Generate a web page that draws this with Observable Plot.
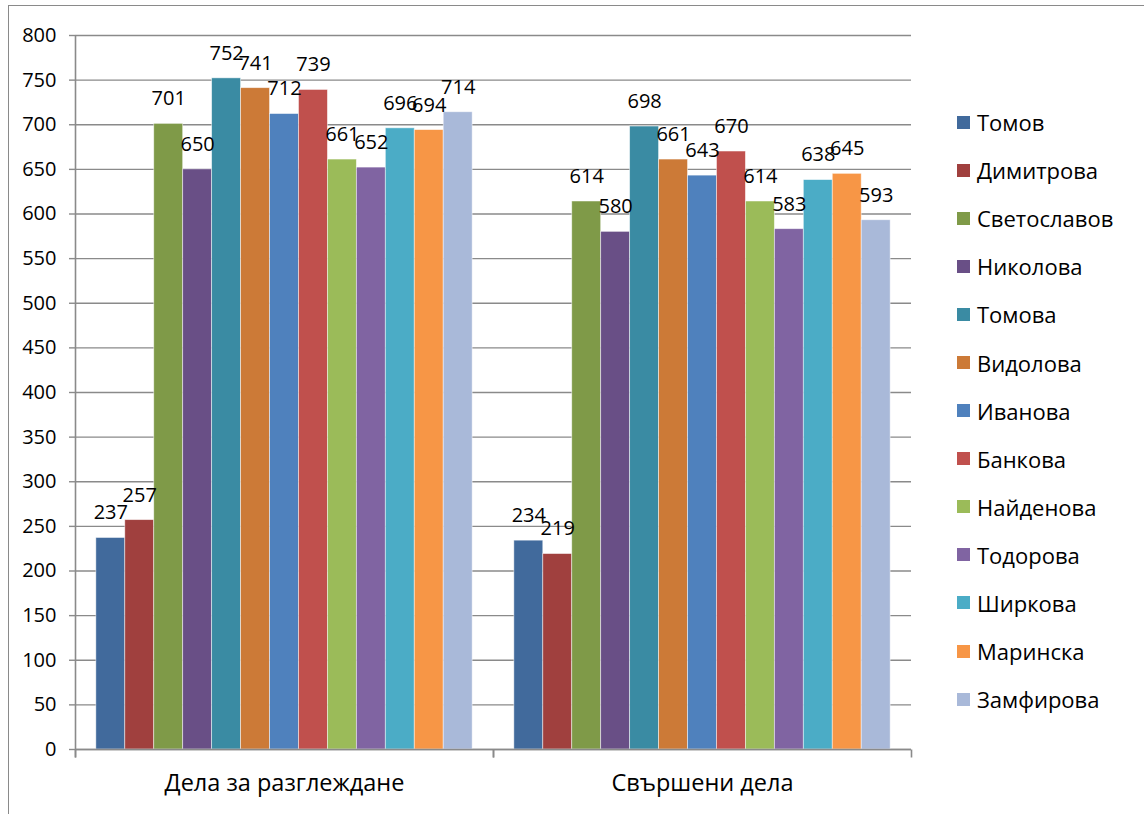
<!DOCTYPE html>
<html>
<head>
<meta charset="utf-8">
<script src="https://cdn.jsdelivr.net/npm/d3@7"></script>
<script src="https://cdn.jsdelivr.net/npm/@observablehq/plot@0.6"></script>
<style>
  html, body { margin: 0; padding: 0; background: #fff; }
  body { font-family: "Open Sans", Lato, sans-serif; width: 1144px; height: 814px; position: relative; overflow: hidden; }
  #frame { position: absolute; left: 8px; top: 5px; width: 1200px; height: 900px; border: 1.5px solid #8a8a8a; box-sizing: border-box; }
  #chart { position: absolute; left: 0; top: 0; }
  #legend { position: absolute; left: 957px; top: 98px; }
  .item { height: 48.1px; display: flex; align-items: center; font-size: 22px; color: #000; }
  .sw { width: 13px; height: 13px; margin-right: 7px; }
</style>
</head>
<body>
<div id="frame"></div>
<div id="chart"></div>
<div id="legend"></div>
<script>
const groups = ["Дела за разглеждане", "Свършени дела"];
const series = ["Томов", "Димитрова", "Светославов", "Николова", "Томова", "Видолова", "Иванова", "Банкова", "Найденова", "Тодорова", "Ширкова", "Маринска", "Замфирова"];
const colors = ["#416a9c", "#a0403e", "#7f9a48", "#694f86", "#3a8ba3", "#cc7a37", "#4f81bd", "#c0504d", "#9bbb59", "#8064a2", "#4bacc6", "#f79646", "#a9b9d9"];
const valuesReview = [237, 257, 701, 650, 752, 741, 712, 739, 661, 652, 696, 694, 714];
const valuesDone = [234, 219, 614, 580, 698, 661, 643, 670, 614, 583, 638, 645, 593];
const yTicks = d3.range(0, 801, 50);

const data = [];
series.forEach((s, i) => {
  data.push({group: groups[0], series: s, value: valuesReview[i]});
  data.push({group: groups[1], series: s, value: valuesDone[i]});
});

const W = 1144, H = 814, mL = 75, mR = 233, mT = 35, mB = 65;
const frameH = H - mT - mB;
// custom symbols: short downward tick, and full-height axis line
const tickDown = {draw(ctx) { ctx.moveTo(0, 0); ctx.lineTo(0, 8); }};
const axisLine = {draw(ctx) { ctx.moveTo(0, 8); ctx.lineTo(0, -frameH); }};

const chart = Plot.plot({
  width: W,
  height: H,
  marginLeft: mL,
  marginRight: mR,
  marginTop: mT,
  marginBottom: mB,
  style: {fontFamily: "'Open Sans', Lato, sans-serif", fontSize: "20px", color: "#000", background: "transparent"},
  fx: {domain: groups, paddingInner: 0, paddingOuter: 0, round: false, label: null},
  x: {domain: series, paddingInner: 0, paddingOuter: 0.72, round: false, axis: null},
  y: {domain: [0, 800], label: null},
  color: {domain: series, range: colors},
  marks: [
    Plot.gridY(yTicks, {stroke: "#8a8a8a", strokeOpacity: 1, strokeWidth: 1.4}),
    Plot.barY(data, {fx: "group", x: "series", y: "value", fill: "series", stroke: "white", strokeWidth: 0.8, strokeOpacity: 0.6}),
    Plot.text(data, {fx: "group", x: "series", y: "value", text: d => String(d.value), dy: -25, lineAnchor: "middle", fontSize: 20, fill: "#000"}),
    Plot.ruleY([0], {stroke: "#8a8a8a", strokeWidth: 1.6}),
    Plot.dot(groups, {fx: d => d, frameAnchor: "bottom-left", symbol: tickDown, r: 1, stroke: "#8a8a8a", strokeWidth: 1.6, fill: "none"}),
    Plot.dot(groups, {fx: d => d, frameAnchor: "bottom-right", symbol: tickDown, r: 1, stroke: "#8a8a8a", strokeWidth: 1.6, fill: "none"}),
    Plot.dot([groups[0]], {fx: d => d, frameAnchor: "bottom-left", symbol: axisLine, r: 1, stroke: "#8a8a8a", strokeWidth: 1.6, fill: "none"}),
    Plot.axisY({ticks: yTicks, tickSize: 6, tickPadding: 13, stroke: "#8a8a8a", strokeWidth: 1.4, fill: "#000", fontSize: 20, label: null, tickFormat: d => String(d)}),
    Plot.axisFx({anchor: "bottom", tickSize: 0, dy: 25, lineAnchor: "middle", fontSize: 23.5, fill: "#000", label: null})
  ]
});
document.getElementById("chart").appendChild(chart);

const legend = document.getElementById("legend");
series.forEach((s, i) => {
  const item = document.createElement("div");
  item.className = "item";
  const sw = document.createElement("span");
  sw.className = "sw";
  sw.style.background = colors[i];
  const t = document.createElement("span");
  t.textContent = s;
  item.appendChild(sw);
  item.appendChild(t);
  legend.appendChild(item);
});
</script>
</body>
</html>
